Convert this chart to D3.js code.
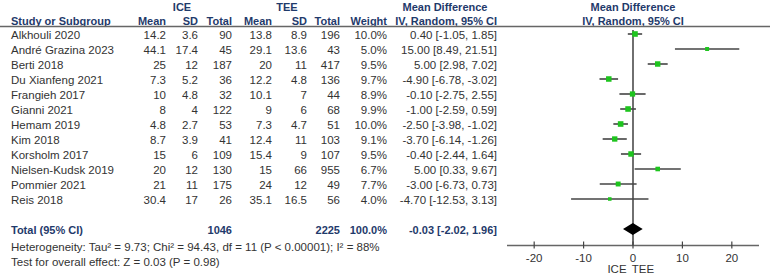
<!DOCTYPE html>
<html><head><meta charset="utf-8">
<script src="https://cdn.jsdelivr.net/npm/d3@7"></script>
<style>
body{margin:0;background:#fff;}
svg text{font-family:"Liberation Sans",Arial,sans-serif;font-size:11.5px;fill:#333;}
svg text.b{font-size:11px;font-weight:bold;}
</style></head>
<body>
<svg id="c" width="770" height="275"></svg>
<script>
const studies = ["Alkhouli 2020","André Grazina 2023","Berti 2018","Du Xianfeng 2021","Frangieh 2017","Gianni 2021","Hemam 2019","Kim 2018","Korsholm 2017","Nielsen-Kudsk 2019","Pommier 2021","Reis 2018"];
const iceMean = ["14.2","44.1","25","7.3","10","8","4.8","8.7","15","20","21","30.4"];
const iceSD   = ["3.6","17.4","12","5.2","4.8","4","2.7","3.9","6","12","11","17"];
const iceN    = [90,45,187,36,32,122,53,41,109,130,175,26];
const teeMean = ["13.8","29.1","20","12.2","10.1","9","7.3","12.4","15.4","15","24","35.1"];
const teeSD   = ["8.9","13.6","11","4.8","7","6","4.7","11","9","66","12","16.5"];
const teeN    = [196,43,417,136,44,68,51,103,107,955,49,56];
const weight  = [10.0,5.0,9.5,9.7,8.9,9.9,10.0,9.1,9.5,6.7,7.7,4.0];
const md      = [0.40,15.00,5.00,-4.90,-0.10,-1.00,-2.50,-3.70,-0.40,5.00,-3.00,-4.70];
const lo      = [-1.05,8.49,2.98,-6.78,-2.75,-2.59,-3.98,-6.14,-2.44,0.33,-6.73,-12.53];
const hi      = [1.85,21.51,7.02,-3.02,2.55,0.59,-1.02,-1.26,1.64,9.67,0.73,3.13];
const total   = {ice:1046, tee:2225, weight:"100.0%", md:-0.03, lo:-2.02, hi:1.96};
const ticks   = [-20,-10,0,10,20];
const heterogeneity = "Heterogeneity: Tau² = 9.73; Chi² = 94.43, df = 11 (P < 0.00001); I² = 88%";
const overall = "Test for overall effect: Z = 0.03 (P = 0.98)";

const svg = d3.select("#c");
const hdr = "#1f3a6b";
const fmt2 = v => d3.format(".2f")(v).replace("\u2212","-");
const x = d3.scaleLinear().domain([-25.5,25.5]).range([507,759]);
const y = d3.scaleLinear().domain([0,11]).range([34,199]);
const yTotal = 229;
const sz = d3.scaleSqrt().domain([0,10]).range([0,5.6]);

function txt(t,xx,yy,anchor,opts={}){
  const e = svg.append("text").attr("x",xx).attr("y",yy).attr("text-anchor",anchor).text(t);
  if(opts.bold) e.attr("class","b");
  if(opts.fill) e.style("fill",opts.fill);
  return e;
}
// headers
txt("ICE",182,11,"middle",{bold:1,fill:hdr});
txt("TEE",287,11,"middle",{bold:1,fill:hdr});
txt("Mean Difference",445,11,"middle",{bold:1,fill:hdr});
txt("Mean Difference",633,11,"middle",{bold:1,fill:hdr});
txt("Study or Subgroup",11,25,"start",{bold:1,fill:hdr});
const colX = {iceMean:166,iceSD:198,iceN:232,teeMean:272,teeSD:307,teeN:340,w:387,ci:497};
txt("Mean",colX.iceMean,25,"end",{bold:1,fill:hdr});
txt("SD",colX.iceSD,25,"end",{bold:1,fill:hdr});
txt("Total",colX.iceN,25,"end",{bold:1,fill:hdr});
txt("Mean",colX.teeMean,25,"end",{bold:1,fill:hdr});
txt("SD",colX.teeSD,25,"end",{bold:1,fill:hdr});
txt("Total",colX.teeN,25,"end",{bold:1,fill:hdr});
txt("Weight",colX.w,25,"end",{bold:1,fill:hdr});
txt("IV, Random, 95% CI",colX.ci,25,"end",{bold:1,fill:hdr});
txt("IV, Random, 95% CI",633,25,"middle",{bold:1,fill:hdr});
svg.append("line").attr("x1",0).attr("x2",770).attr("y1",26.5).attr("y2",26.5).attr("stroke","#666").attr("stroke-width",1.5);

// rows
studies.forEach((s,i)=>{
  const by = y(i)+4.5;
  txt(s,11,by,"start");
  txt(iceMean[i],colX.iceMean,by,"end");
  txt(iceSD[i],colX.iceSD,by,"end");
  txt(iceN[i],colX.iceN,by,"end");
  txt(teeMean[i],colX.teeMean,by,"end");
  txt(teeSD[i],colX.teeSD,by,"end");
  txt(teeN[i],colX.teeN,by,"end");
  txt(weight[i].toFixed(1)+"%",colX.w,by,"end");
  txt(`${fmt2(md[i])} [${fmt2(lo[i])}, ${fmt2(hi[i])}]`,colX.ci,by,"end");
});
// total
const ty = yTotal+5;
txt("Total (95% CI)",11,ty,"start",{bold:1,fill:hdr});
txt(total.ice,colX.iceN,ty,"end",{bold:1,fill:hdr});
txt(total.tee,colX.teeN,ty,"end",{bold:1,fill:hdr});
txt(total.weight,colX.w,ty,"end",{bold:1,fill:hdr});
txt(`${fmt2(total.md)} [${fmt2(total.lo)}, ${fmt2(total.hi)}]`,colX.ci,ty,"end",{bold:1,fill:hdr});
txt(heterogeneity,11,251,"start");
txt(overall,11,266,"start");

// zero line
svg.append("line").attr("x1",x(0)).attr("x2",x(0)).attr("y1",30).attr("y2",245).attr("stroke","#222").attr("stroke-width",1.3);
// CIs
svg.selectAll("line.ci").data(studies).join("line").attr("class","ci")
  .attr("x1",(d,i)=>x(lo[i])).attr("x2",(d,i)=>x(hi[i]))
  .attr("y1",(d,i)=>y(i)).attr("y2",(d,i)=>y(i))
  .attr("stroke","#444").attr("stroke-width",1.6);
svg.selectAll("rect.pt").data(studies).join("rect").attr("class","pt")
  .attr("x",(d,i)=>x(md[i])-sz(weight[i])/2).attr("y",(d,i)=>y(i)-sz(weight[i])/2)
  .attr("width",(d,i)=>sz(weight[i])).attr("height",(d,i)=>sz(weight[i]))
  .attr("fill","#1ec41e");
// diamond
svg.append("path").attr("d",`M${x(total.lo)},${yTotal}L${x(total.md)},${yTotal-6}L${x(total.hi)},${yTotal}L${x(total.md)},${yTotal+6}Z`).attr("fill","#000");
// axis
const axisY = 245.5;
const ax = svg.append("g").attr("transform",`translate(0,${axisY})`);
ax.append("line").attr("x1",x.range()[0]).attr("x2",x.range()[1]).attr("stroke","#666").attr("stroke-width",1.5);
ax.selectAll("line.t").data(ticks).join("line").attr("class","t")
  .attr("x1",d=>x(d)).attr("x2",d=>x(d)).attr("y1",-4).attr("y2",3).attr("stroke","#444").attr("stroke-width",1.2);
ax.selectAll("text").data(ticks).join("text").attr("x",d=>x(d)).attr("y",16).attr("text-anchor","middle").text(d=>d<0?"-"+Math.abs(d):d);
txt("ICE",617,273,"middle");
txt("TEE",643,273,"middle");
</script>
</body></html>
